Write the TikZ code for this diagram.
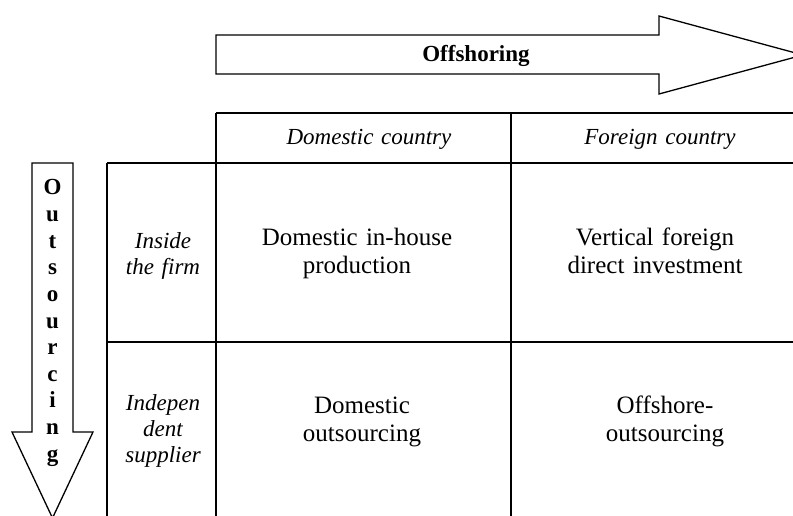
\documentclass[tikz,border=0pt]{standalone}
\usepackage{fontspec}
\setmainfont{Liberation Serif}
\begin{document}
\begin{tikzpicture}[x=1pt,y=-1pt,line width=1.3pt,
  arrowshape/.style={draw=black,fill=white,line join=miter},
  gridline/.style={draw=black},
  celltext/.style={text width=270pt,align=center,anchor=base,inner sep=0pt,font=\fontsize{25}{28}\selectfont},
  headtext/.style={text width=270pt,align=center,anchor=base,inner sep=0pt,font=\fontsize{23}{26}\selectfont\itshape},
  rowtext/.style={text width=105pt,align=center,anchor=base,inner sep=0pt,font=\fontsize{23}{26}\selectfont\itshape},
  lettertext/.style={anchor=base,inner sep=0pt,font=\fontsize{23}{26}\selectfont\bfseries},
  arrowlabel/.style={anchor=base,inner sep=0pt,font=\fontsize{23}{26}\selectfont\bfseries}]
\useasboundingbox[fill=white] (0,0) rectangle (793,516);
% Offshoring arrow
\draw[arrowshape] (216,35) -- (659,35) -- (659,16) -- (803,55) -- (659,94) -- (659,74) -- (216,74) -- cycle;
\node[arrowlabel] (offlabel) at (476,62) {Offshoring};
% Outsourcing arrow
\draw[arrowshape] (32,163) -- (73,163) -- (73,432) -- (93,432) -- (52.5,518) -- (12,432) -- (32,432) -- cycle;
\foreach \l [count=\i] in {O,u,t,s,o,u,r,c,i,n,g}
  \node[lettertext] (out\i) at (52.5,{195+26.6*(\i-1)}) {\l};
% Table lines
\draw[gridline] (216,113) -- (800,113);
\draw[gridline] (107,163) -- (800,163);
\draw[gridline] (107,342) -- (800,342);
\draw[gridline] (107,163) -- (107,520);
\draw[gridline] (216,113) -- (216,520);
\draw[gridline] (511,113) -- (511,520);
% Header texts
\node[headtext] (hdom) at (369,145) {Domestic country};
\node[headtext] (hfor) at (660,145) {Foreign country};
% Row labels
\node[rowtext] (rin) at (163,248) {Inside\\the firm};
\node[rowtext] (rind) at (163,410) {Indepen\\dent\\supplier};
% Cells
\node[celltext] (c11) at (357,245) {Domestic in-house\\production};
\node[celltext] (c12) at (655,245) {Vertical foreign\\direct investment};
\node[celltext] (c21) at (362,413) {Domestic\\outsourcing};
\node[celltext] (c22) at (665,413) {Offshore-\\outsourcing};
\end{tikzpicture}
\end{document}
